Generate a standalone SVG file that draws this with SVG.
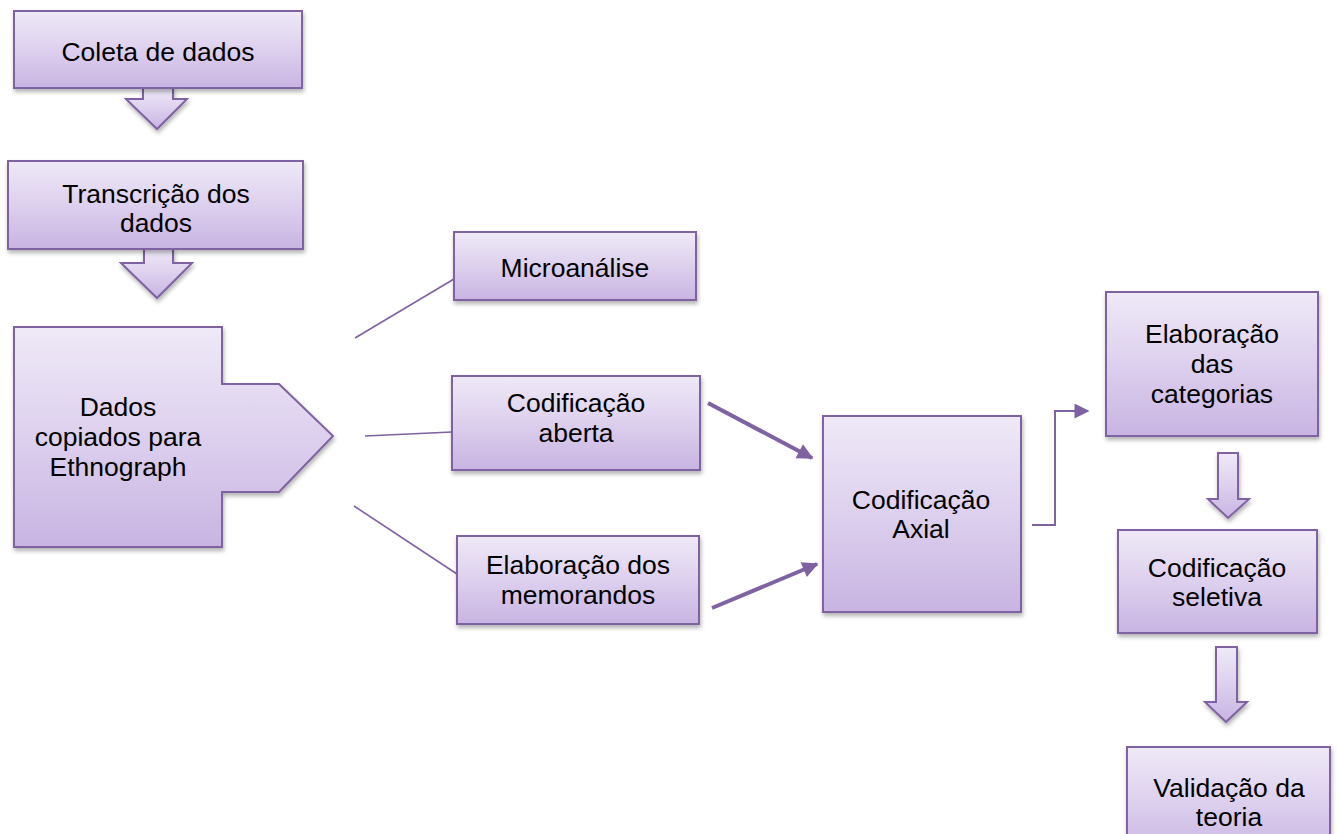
<svg xmlns="http://www.w3.org/2000/svg" width="1338" height="834" viewBox="0 0 1338 834">
<defs>
<linearGradient id="g" x1="0" y1="0" x2="0" y2="1">
<stop offset="0" stop-color="#efe9f7"/>
<stop offset="0.5" stop-color="#ddd0ee"/>
<stop offset="1" stop-color="#c8b4e2"/>
</linearGradient>
<filter id="sh" x="-10%" y="-10%" width="125%" height="130%">
<feDropShadow dx="1" dy="3" stdDeviation="2" flood-color="#000" flood-opacity="0.3"/>
</filter>
<marker id="ah" viewBox="0 0 10 10" refX="9" refY="5" markerWidth="4.5" markerHeight="4" orient="auto" markerUnits="strokeWidth">
<path d="M0,0 L10,5 L0,10 Z" fill="#7f62a1"/>
</marker>
<marker id="ah2" viewBox="0 0 10 10" refX="9" refY="5" markerWidth="8" markerHeight="7.5" orient="auto" markerUnits="strokeWidth">
<path d="M0,0 L10,5 L0,10 Z" fill="#7f62a1"/>
</marker>
</defs>
<style>
.box{fill:url(#g);stroke:#7f62a1;stroke-width:2;filter:url(#sh)}
.t{font-family:"Liberation Sans",Arial,sans-serif;font-size:26.5px;fill:#000;text-anchor:middle}
.ln{fill:none;stroke:#7f62a1;stroke-width:1.6}
.thick{fill:none;stroke:#7f62a1;stroke-width:4;marker-end:url(#ah)}
.el{fill:none;stroke:#7f62a1;stroke-width:2;marker-end:url(#ah2)}
</style>
<rect width="1338" height="834" fill="#fff"/>

<g id="connectors">
<path class="box" d="M143,88 L173,88 L173,99 L187,99 L157,129 L126,99 L143,99 Z"/>
<path class="box" d="M144,249 L173,249 L173,263 L192,263 L157,298 L121,263 L144,263 Z"/>
<path class="box" d="M1218,453 L1238,453 L1238,499 L1249,499 L1228,518 L1208,499 L1218,499 Z"/>
<path class="box" d="M1216,647 L1237,647 L1237,702 L1247,702 L1226,722 L1205,702 L1216,702 Z"/>
<line class="ln" x1="355" y1="338" x2="454" y2="279"/>
<line class="ln" x1="365" y1="436" x2="452" y2="432"/>
<line class="ln" x1="354" y1="506" x2="457" y2="574"/>
<line class="thick" x1="708" y1="403" x2="812" y2="458"/>
<line class="thick" x1="712" y1="608" x2="817" y2="564"/>
<path class="el" d="M1032,525 L1055,525 L1055,411 L1088,411"/>
</g>

<g id="coleta">
<rect class="box" x="14" y="11" width="288" height="77"/>
<text class="t" x="158" y="61">Coleta de dados</text>
</g>
<g id="transcricao">
<rect class="box" x="8" y="161" width="295" height="88"/>
<text class="t" x="156" y="203">Transcrição dos</text>
<text class="t" x="156" y="232">dados</text>
</g>
<g id="dados">
<path class="box" d="M14,327 L222,327 L222,384 L279,384 L333,436 L279,492 L222,492 L222,547 L14,547 Z"/>
<text class="t" x="118" y="416">Dados</text>
<text class="t" x="118" y="446">copiados para</text>
<text class="t" x="118" y="476">Ethnograph</text>
</g>
<g id="microanalise">
<rect class="box" x="454" y="232" width="242" height="68"/>
<text class="t" x="575" y="277">Microanálise</text>
</g>
<g id="codaberta">
<rect class="box" x="452" y="376" width="248" height="94"/>
<text class="t" x="576" y="412">Codificação</text>
<text class="t" x="576" y="442">aberta</text>
</g>
<g id="memorandos">
<rect class="box" x="457" y="536" width="242" height="88"/>
<text class="t" x="578" y="574">Elaboração dos</text>
<text class="t" x="578" y="604">memorandos</text>
</g>
<g id="axial">
<rect class="box" x="823" y="416" width="198" height="196"/>
<text class="t" x="921" y="509">Codificação</text>
<text class="t" x="921" y="538">Axial</text>
</g>
<g id="categorias">
<rect class="box" x="1106" y="292" width="212" height="144"/>
<text class="t" x="1212" y="343">Elaboração</text>
<text class="t" x="1212" y="373">das</text>
<text class="t" x="1212" y="403">categorias</text>
</g>
<g id="seletiva">
<rect class="box" x="1118" y="530" width="199" height="103"/>
<text class="t" x="1217" y="577">Codificação</text>
<text class="t" x="1217" y="606">seletiva</text>
</g>
<g id="validacao">
<rect class="box" x="1127" y="747" width="203" height="110"/>
<text class="t" x="1229" y="797">Validação da</text>
<text class="t" x="1229" y="826">teoria</text>
</g>
</svg>
